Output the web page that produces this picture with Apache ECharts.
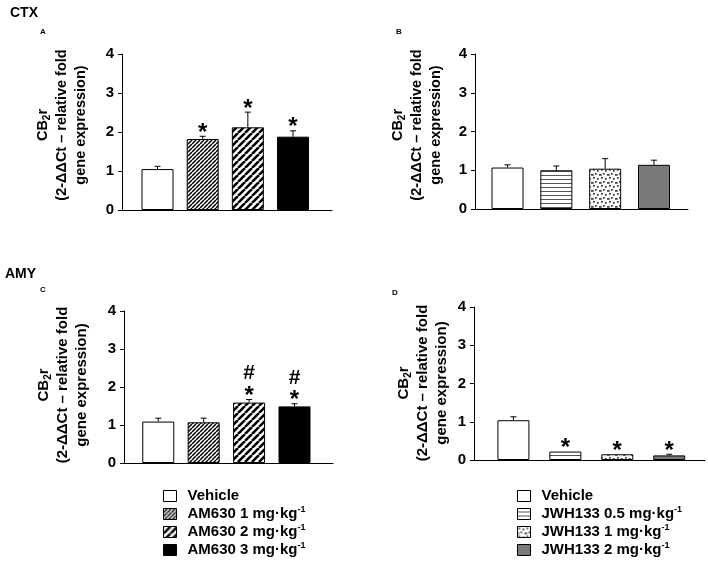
<!DOCTYPE html>
<html><head><meta charset="utf-8">
<script src="https://cdn.jsdelivr.net/npm/echarts@6/dist/echarts.min.js"></script>
<style>html,body{margin:0;padding:0;background:#fff}#c{width:708px;height:561px}</style>
</head><body><div id="c"></div>
<script>
// ---- data ----
const namesAM = ['Vehicle', 'AM630 1 mg·kg', 'AM630 2 mg·kg', 'AM630 3 mg·kg'];
const namesJWH = ['Vehicle', 'JWH133 0.5 mg·kg', 'JWH133 1 mg·kg', 'JWH133 2 mg·kg'];
const ctxAM = [1.05, 1.82, 2.12, 1.88];
const ctxAMErr = [0.07, 0.07, 0.39, 0.15];
const ctxAMSig = ['', '*', '*', '*'];
const ctxJWH = [1.07, 1.00, 1.04, 1.14];
const ctxJWHErr = [0.07, 0.11, 0.26, 0.12];
const ctxJWHSig = ['', '', '', ''];
const amyAM = [1.09, 1.07, 1.59, 1.49];
const amyAMErr = [0.09, 0.11, 0.08, 0.07];
const amyAMSig = ['', '', '#\n*', '#\n*'];
const amyJWH = [1.04, 0.22, 0.15, 0.12];
const amyJWHErr = [0.09, 0, 0, 0.03];
const amyJWHSig = ['', '*', '*', '*'];
const yTicks = [0, 1, 2, 3, 4];
const yName = ['CB', '2', 'r', '(2-ΔΔCt – relative fold', 'gene expression)'];
const panelLetters = ['A', 'B', 'C', 'D'];
const regionNames = ['CTX', 'AMY'];

// ---- patterns ----
function tile(w, h, draw) {
  const c = document.createElement('canvas'); c.width = w; c.height = h;
  const g = c.getContext('2d'); g.fillStyle = '#fff'; g.fillRect(0, 0, w, h); draw(g, w, h);
  return { image: c, repeat: 'repeat' };
}
function hatch(p, lw) {
  return tile(p, p, (g) => {
    g.strokeStyle = '#000'; g.lineWidth = lw; g.beginPath();
    for (let k = -1; k <= 1; k++) { g.moveTo(k * p, p); g.lineTo(k * p + p, 0); }
    g.stroke();
  });
}
const pHatchDense = hatch(4, 1.5);
const pHatchWide = hatch(7, 2.6);
const pHLines = tile(1, 4, (g) => { g.fillStyle = '#555'; g.fillRect(0, 3, 1, 1); });
const pDots = tile(8, 8, (g) => {
  g.fillStyle = '#3a3a3a';
  [[1, 1], [5, 2], [3, 5], [7, 6], [0, 6]].forEach(([x, y]) => g.fillRect(x, y, 1.7, 1.7));
});
const fillsAM = ['#ffffff', pHatchDense, pHatchWide, '#000000'];
const fillsJWH = ['#ffffff', pHLines, pDots, '#7a7a7a'];

const FONT = 'Liberation Sans, Arial, sans-serif';
const panels = [
  { vals: ctxAM, errs: ctxAMErr, sig: ctxAMSig, names: namesAM, fills: fillsAM,
    grid: { left: 122, top: 54, width: 210, height: 156 }, xr: [-0.786, 3.863], yl: [62, 125, 14.5] },
  { vals: ctxJWH, errs: ctxJWHErr, sig: ctxJWHSig, names: namesJWH, fills: fillsJWH,
    grid: { left: 475, top: 54, width: 213, height: 155 }, xr: [-0.666, 3.696], yl: [417, 125, 14.5] },
  { vals: amyAM, errs: amyAMErr, sig: amyAMSig, names: namesAM, fills: fillsAM,
    grid: { left: 124, top: 311, width: 209, height: 152 }, xr: [-0.755, 3.848], yl: [63, 385, 15] },
  { vals: amyJWH, errs: amyJWHErr, sig: amyJWHSig, names: namesJWH, fills: fillsJWH,
    grid: { left: 474, top: 307, width: 231, height: 153 }, xr: [-0.759, 3.689], yl: [423, 383, 15] }
];

const grid = [], xAxis = [], yAxis = [], series = [], graphic = [];
panels.forEach((P, pi) => {
  grid.push(P.grid);
  xAxis.push({ type: 'value', gridIndex: pi, min: P.xr[0], max: P.xr[1],
    axisLine: { show: true, onZero: false, lineStyle: { color: '#000', width: 1 } },
    axisTick: { show: false }, axisLabel: { show: false }, splitLine: { show: false } });
  yAxis.push({ type: 'value', gridIndex: pi, min: yTicks[0], max: yTicks[yTicks.length - 1], interval: 1,
    axisLine: { show: true, onZero: false, lineStyle: { color: '#000', width: 1 } },
    axisTick: { show: true, length: 4, lineStyle: { color: '#000' } },
    axisLabel: { color: '#000', fontFamily: FONT, fontWeight: 'bold', fontSize: 15, margin: 8 },
    splitLine: { show: false } });
  P.vals.forEach((v, k) => {
    series.push({ type: 'bar', name: P.names[k], xAxisIndex: pi, yAxisIndex: pi,
      barWidth: 32, barGap: '-100%', silent: true, animation: false,
      data: [[k, v]],
      itemStyle: { color: P.fills[k], borderColor: '#000', borderWidth: 1 } });
  });
  const sig = P.sig;
  series.push({ type: 'custom', xAxisIndex: pi, yAxisIndex: pi, silent: true, animation: false,
    data: P.vals.map((v, k) => [k, v, P.errs[k]]),
    renderItem: (params, api) => {
      const k = api.value(0), v = api.value(1), e = api.value(2);
      const p0 = api.coord([k, v]), p1 = api.coord([k, v + e]);
      const ch = [];
      if (e > 0) {
        ch.push({ type: 'line', shape: { x1: p0[0], y1: p0[1], x2: p1[0], y2: p1[1] }, style: { stroke: '#000', lineWidth: 1 } });
        ch.push({ type: 'line', shape: { x1: p1[0] - 3, y1: p1[1], x2: p1[0] + 3, y2: p1[1] }, style: { stroke: '#000', lineWidth: 1 } });
      }
      const marks = sig[params.dataIndex] ? sig[params.dataIndex].split('\n').reverse() : [];
      marks.forEach((m, j) => {
        const yy = m === '*' ? p1[1] - 3 : p1[1] - 26;
        ch.push({ type: 'text', x: p1[0], y: yy,
          style: { text: m, fill: '#000', font: 'bold ' + (m === '*' ? 24 : 21) + 'px ' + FONT, align: 'center', verticalAlign: 'middle' } });
      });
      return { type: 'group', children: ch };
    } });
  // y-axis name
  graphic.push({ type: 'text', x: P.yl[0], y: P.yl[1], rotation: Math.PI / 2,
    style: { text: '{a|' + yName[0] + '}{b|' + yName[1] + '}{a|' + yName[2] + '}\n{a|' + yName[3] + '}\n{a|' + yName[4] + '}',
      align: 'center', verticalAlign: 'middle', fill: '#000',
      rich: { a: { fontFamily: FONT, fontWeight: 'bold', fontSize: P.yl[2], lineHeight: 19, fill: '#000' },
              b: { fontFamily: FONT, fontWeight: 'bold', fontSize: 10, lineHeight: 12, verticalAlign: 'bottom', fill: '#000' } } } });
});

// titles / letters
const txt = (t, x, y, size) => ({ type: 'text', x, y, style: { text: t, fill: '#000', font: 'bold ' + size + 'px ' + FONT, align: 'left', verticalAlign: 'middle' } });
graphic.push(txt(regionNames[0], 10, 13, 14), txt(regionNames[1], 5, 274, 14));
graphic.push(txt(panelLetters[0], 40, 31.5, 8), txt(panelLetters[1], 396, 32, 8), txt(panelLetters[2], 40, 290, 8), txt(panelLetters[3], 392, 292.5, 8));

const legendText = { color: '#000', fontFamily: FONT, fontWeight: 'bold', fontSize: 15, lineHeight: 18,
  rich: { g: { width: 6 }, s: { fontFamily: FONT, fontWeight: 'bold', fontSize: 9, lineHeight: 10, verticalAlign: 'top' } } };
const fmt = (n) => '{g| }' + n + (n === 'Vehicle' ? '' : '{s|-1}');
const mkLegend = (data, left) => ({ data, orient: 'vertical', left, top: 487, height: 74, padding: 0,
  itemWidth: 13, itemHeight: 11, itemGap: 0,
  icon: 'rect', selectedMode: false, formatter: fmt, textStyle: legendText,
  itemStyle: { borderColor: '#000', borderWidth: 1 } });

const chart = echarts.init(document.getElementById('c'), null, { renderer: 'canvas' });
chart.setOption({
  animation: false, backgroundColor: '#fff',
  grid, xAxis, yAxis, series, graphic,
  legend: [mkLegend(namesAM, 163), mkLegend(namesJWH, 517)]
});
</script></body></html>
